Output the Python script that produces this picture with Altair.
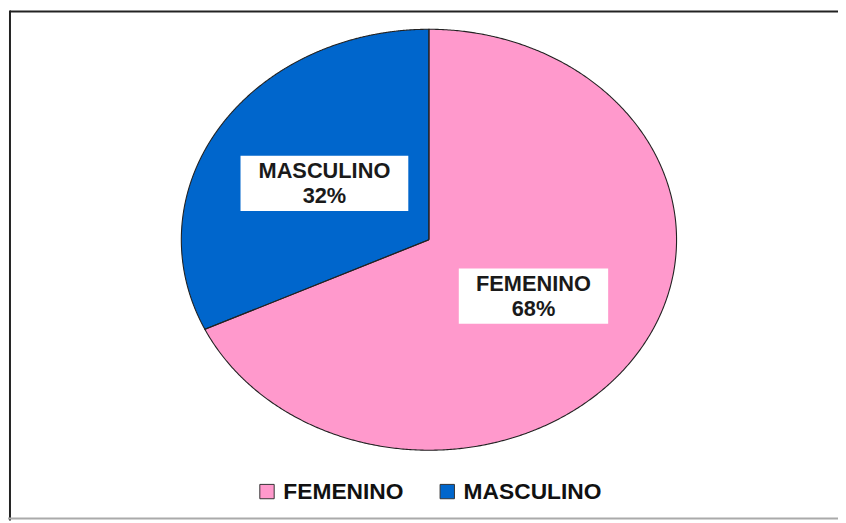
import numpy as np
import pandas as pd
import altair as alt

# ---- data ----
categories = ["FEMENINO", "MASCULINO"]
values = [68, 32]
colors = ["#FF99CC", "#0066CC"]

total = float(sum(values))
frac_f = values[0] / total
theta = 2 * np.pi * frac_f          # slice boundary, clockwise from 12 o'clock
px, py = np.sin(theta), np.cos(theta)
k = py / px

# ---- sector fills derived from the values (unit ellipse, scaled by axes) ----
t = np.linspace(0, np.pi, 1441)
xs = -np.cos(t)
rows = []
xf = np.unique(np.concatenate([xs[xs >= px], [px, -1e-9, 0.0]]))
for x in xf:
    lo = -np.sqrt(max(0.0, 1 - x * x))
    hi = k * x if x < 0 else np.sqrt(max(0.0, 1 - x * x))
    rows.append({"cat": categories[0], "x": x, "y": hi, "y2": lo})
xm = np.unique(np.concatenate([xs[xs <= 0], [px, 0.0]]))
for x in xm:
    hi = np.sqrt(max(0.0, 1 - x * x))
    lo = max(-np.sqrt(max(0.0, 1 - x * x)), k * x)
    rows.append({"cat": categories[1], "x": x, "y": hi, "y2": lo})
shape = pd.DataFrame(rows)

# ---- sector outlines (centre -> top -> arc -> boundary -> centre) ----
orows = []
cum_ang = np.concatenate([[0.0], np.cumsum(values) / total]) * 2 * np.pi
for i, c in enumerate(categories):
    a0, a1 = cum_ang[i], cum_ang[i + 1]
    angs = np.linspace(a0, a1, 600)
    pts = [(0.0, 0.0)] + [(np.sin(a), np.cos(a)) for a in angs] + [(0.0, 0.0)]
    for j, (x, y) in enumerate(pts):
        orows.append({"cat": c, "i": j, "x": x, "y": y})
outline = pd.DataFrame(orows)

# ---- label positions: mid-angle at half radius ----
mids = (cum_ang[:-1] + cum_ang[1:]) / 2
labels = pd.DataFrame({
    "cat": categories,
    "val": values,
    "lx": 0.5 * np.sin(mids),
    "ly": 0.5 * np.cos(mids),
})
labels["txt"] = labels["cat"] + "\n" + labels["val"].astype(str) + "%"

RX_PX, RY_PX = 250.0, 212.5
xscale = alt.Scale(domain=[-1, 1], range=[175, 675])
yscale = alt.Scale(domain=[-1, 1], range=[444, 19])

pie = alt.Chart(shape).mark_area(opacity=1, strokeWidth=0).encode(
    x=alt.X("x:Q", scale=xscale, axis=None),
    y=alt.Y("y:Q", scale=yscale, axis=None),
    y2="y2:Q",
    fill=alt.Fill("cat:N", scale=alt.Scale(domain=categories, range=colors),
                  legend=alt.Legend(title=None, orient="none", direction="horizontal",
                                    legendX=250, legendY=474,
                                    symbolType="square", symbolSize=210,
                                    symbolStrokeColor="#333333", symbolStrokeWidth=1,
                                    symbolOpacity=1,
                                    labelFont="Liberation Sans", labelFontWeight="bold",
                                    labelFontSize=23, labelColor="#111111",
                                    labelOffset=5, columnPadding=32)),
)

edges = alt.Chart(outline).mark_line(color="#222222", strokeWidth=1.1).encode(
    x=alt.X("x:Q", scale=xscale, axis=None),
    y=alt.Y("y:Q", scale=yscale, axis=None),
    detail="cat:N",
    order="i:Q",
)

boxes = alt.Chart(labels).transform_calculate(
    hw="(9.3*length(datum.cat)+1)/" + str(RX_PX),
    hh="28/" + str(RY_PX),
).transform_calculate(
    bx="datum.lx-datum.hw", bx2="datum.lx+datum.hw",
    by="datum.ly-datum.hh", by2="datum.ly+datum.hh",
).mark_rect(fill="white", strokeWidth=0).encode(
    x=alt.X("bx:Q", scale=xscale, axis=None),
    x2="bx2:Q",
    y=alt.Y("by:Q", scale=yscale, axis=None),
    y2="by2:Q",
)

text = alt.Chart(labels).mark_text(
    font="Liberation Sans", fontSize=22, fontWeight="bold", color="#1a1a1a",
    lineBreak="\n", lineHeight=25, baseline="middle", align="center", dy=-12,
).encode(
    x=alt.X("lx:Q", scale=xscale, axis=None),
    y=alt.Y("ly:Q", scale=yscale, axis=None),
    text="txt:N",
)

one = pd.DataFrame({"a": [0]})
frame_top = alt.Chart(one).mark_rule(color="#222222", strokeWidth=2).encode(
    x=alt.value(2), x2=alt.value(838), y=alt.value(1))
frame_left = alt.Chart(one).mark_rule(color="#222222", strokeWidth=2).encode(
    x=alt.value(2), y=alt.value(0), y2=alt.value(515))
frame_bottom = alt.Chart(one).mark_rule(color="#aaaaaa", strokeWidth=2).encode(
    x=alt.value(0), x2=alt.value(838), y=alt.value(513))

chart = alt.layer(pie, edges, boxes, text, frame_top, frame_left, frame_bottom).properties(
    width=838, height=515, padding=0,
    autosize=alt.AutoSizeParams(type="none"),
    background="white",
).configure_view(stroke=None)

chart.save("out.html", embed_options={"renderer": "svg", "actions": False})
